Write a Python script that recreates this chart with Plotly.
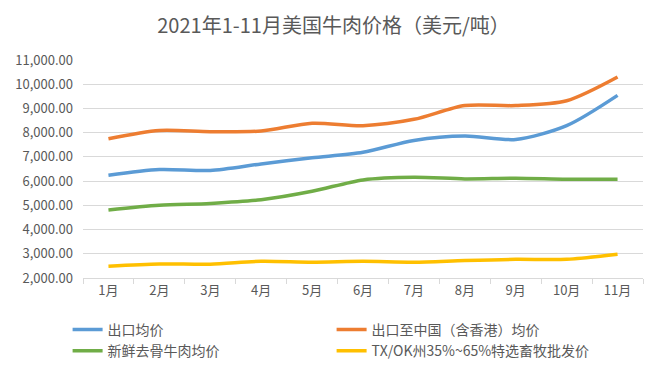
import plotly.graph_objects as go

months = ["1月", "2月", "3月", "4月", "5月", "6月", "7月", "8月", "9月", "10月", "11月"]
export_avg = [6240, 6480, 6440, 6710, 6960, 7190, 7680, 7860, 7720, 8290, 9540]
export_china = [7750, 8090, 8040, 8070, 8390, 8290, 8550, 9120, 9120, 9320, 10300]
fresh_boneless = [4810, 5000, 5080, 5230, 5580, 6050, 6160, 6090, 6120, 6080, 6080]
tx_ok = [2490, 2580, 2570, 2690, 2650, 2690, 2650, 2720, 2770, 2770, 2980]

series_names = ["出口均价", "出口至中国（含香港）均价", "新鲜去骨牛肉均价", "TX/OK州35%~65%特选畜牧批发价"]
series_values = [export_avg, export_china, fresh_boneless, tx_ok]
colors = ["#5B9BD5", "#ED7D31", "#70AD47", "#FFC000"]

tick_vals = list(range(2000, 11001, 1000))
tick_text = [f"{v:,.2f}" for v in tick_vals]

font_family = "Noto Sans CJK SC, Microsoft YaHei, sans-serif"

W, H = 654, 370

fig = go.Figure()
for name, vals, c in zip(series_names, series_values, colors):
    fig.add_trace(go.Scatter(
        x=months, y=vals, name=name, mode="lines",
        line=dict(color=c, width=3.5, shape="spline", smoothing=0.8),
    ))

fig.update_layout(
    width=W, height=H,
    margin=dict(l=75, r=19, t=52, b=100, autoexpand=False),
    paper_bgcolor="white", plot_bgcolor="white",
    font=dict(family=font_family, color="#595959", size=12),
    title=dict(text="2021年1-11月美国牛肉价格（美元/吨）", x=325.5 / W, xanchor="center",
               y=1 - 18 / H, yanchor="middle", font=dict(size=20, color="#595959")),
    showlegend=True,
    legend=dict(orientation="h", x=59.6 / W, xanchor="left", xref="container",
                y=1 - 306 / H, yanchor="top", yref="container",
                entrywidth=219, entrywidthmode="pixels",
                font=dict(size=14, color="#595959"), tracegroupgap=0,
                itemwidth=30),
    xaxis=dict(type="category", showgrid=False, showline=True, linecolor="#d9d9d9",
               linewidth=1, ticks="outside", tickson="boundaries", ticklen=5,
               tickcolor="#d9d9d9", tickfont=dict(size=13, color="#595959"),
               range=[-0.5, 10.5]),
    yaxis=dict(range=[2000, 11000], tickvals=tick_vals, ticktext=tick_text,
               showgrid=True, gridcolor="#d9d9d9", gridwidth=1, zeroline=False,
               ticks="", tickfont=dict(size=13, color="#595959"), ticklabelstandoff=9),
)

fig.write_html("out.html")
